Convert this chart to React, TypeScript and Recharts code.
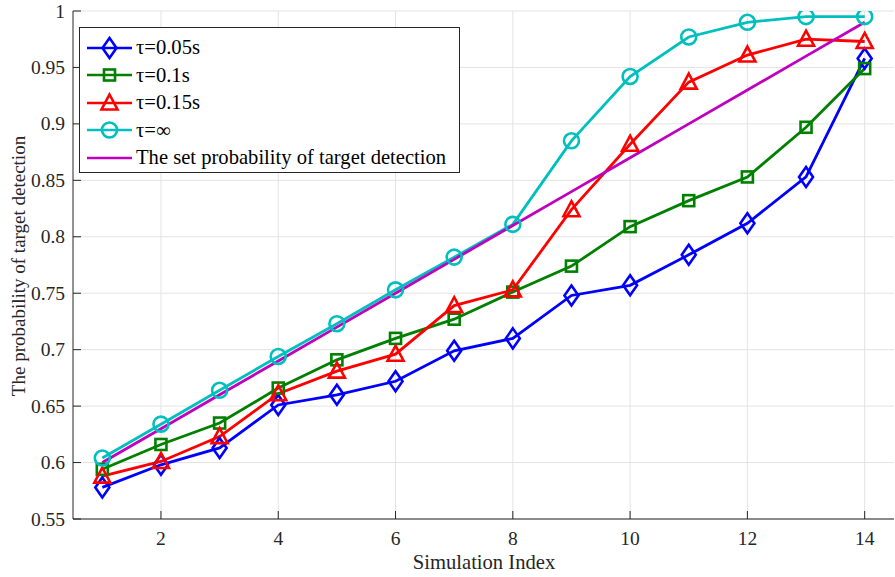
import React from 'react';
import { LineChart, Line, XAxis, YAxis, CartesianGrid, Legend, Label } from 'recharts';

document.body.style.margin = '0';

const simIndex = [1, 2, 3, 4, 5, 6, 7, 8, 9, 10, 11, 12, 13, 14];
const tau005 = [0.578, 0.598, 0.613, 0.651, 0.660, 0.672, 0.699, 0.710, 0.748, 0.757, 0.784, 0.812, 0.853, 0.958];
const tau01 = [0.594, 0.616, 0.635, 0.666, 0.691, 0.710, 0.727, 0.751, 0.774, 0.809, 0.832, 0.853, 0.897, 0.949];
const tau015 = [0.588, 0.601, 0.623, 0.661, 0.681, 0.696, 0.739, 0.753, 0.824, 0.882, 0.937, 0.961, 0.975, 0.973];
const tauInf = [0.604, 0.634, 0.664, 0.694, 0.723, 0.753, 0.782, 0.811, 0.885, 0.942, 0.977, 0.990, 0.995, 0.995];
const setProb = [0.60, 0.63, 0.66, 0.69, 0.72, 0.75, 0.78, 0.81, 0.84, 0.87, 0.90, 0.93, 0.96, 0.99];

const xTicks = [2, 4, 6, 8, 10, 12, 14];
const yTicks = [0.55, 0.6, 0.65, 0.7, 0.75, 0.8, 0.85, 0.9, 0.95, 1];

const data = simIndex.map((x, i) => ({
  x,
  t005: tau005[i],
  t01: tau01[i],
  t015: tau015[i],
  tinf: tauInf[i],
  set: setProb[i],
}));

const FONT = '"Liberation Serif", "Times New Roman", serif';
const AXIS = '#262626';
const PLOT_LEFT = 73;
const PLOT_BOTTOM = 519;

type Marker = 'diamond' | 'square' | 'triangle' | 'circle' | 'none';

const markerShape = (kind: Marker, cx: number, cy: number, color: string) => {
  const sw = 2.6;
  if (kind === 'diamond') {
    return <path d={`M${cx},${cy - 10} L${cx + 7},${cy} L${cx},${cy + 10} L${cx - 7},${cy} Z`} fill="none" stroke={color} strokeWidth={sw} />;
  }
  if (kind === 'square') {
    return <rect x={cx - 5.5} y={cy - 5.5} width={11} height={11} fill="none" stroke={color} strokeWidth={sw} />;
  }
  if (kind === 'triangle') {
    return <path d={`M${cx},${cy - 8.5} L${cx + 8},${cy + 6.5} L${cx - 8},${cy + 6.5} Z`} fill="none" stroke={color} strokeWidth={sw} />;
  }
  if (kind === 'circle') {
    return <circle cx={cx} cy={cy} r={7.5} fill="none" stroke={color} strokeWidth={sw} />;
  }
  return null;
};

const series: { key: string; name: string; color: string; marker: Marker }[] = [
  { key: 't005', name: 'τ=0.05s', color: '#0000ff', marker: 'diamond' },
  { key: 't01', name: 'τ=0.1s', color: '#008000', marker: 'square' },
  { key: 't015', name: 'τ=0.15s', color: '#ff0000', marker: 'triangle' },
  { key: 'tinf', name: 'τ=∞', color: '#00bfbf', marker: 'circle' },
  { key: 'set', name: 'The set probability of target detection', color: '#bf00bf', marker: 'none' },
];

const renderLegend = () => (
  <div
    style={{
      width: 379,
      height: 144,
      border: `1px solid ${AXIS}`,
      background: '#fff',
      fontFamily: FONT,
      fontSize: 20.6,
      color: '#000',
      boxSizing: 'content-box',
    }}
  >
    {series.map((s, i) => (
      <div key={s.key} style={{ display: 'flex', alignItems: 'center', height: 27.5, marginTop: i === 0 ? 6 : 0 }}>
        <svg width={52} height={24} style={{ marginLeft: 7 }}>
          <line x1={0} y1={12} x2={45} y2={12} stroke={s.color} strokeWidth={2.6} />
          {markerShape(s.marker, 22.5, 12, s.color)}
        </svg>
        <span style={{ whiteSpace: 'nowrap', marginLeft: -3 }}>{s.name}</span>
      </div>
    ))}
  </div>
);

const makeDot = (kind: Marker, color: string) => (props: any) => {
  const { cx, cy, index } = props;
  if (cx == null || cy == null) return <g key={index} />;
  return <g key={index}>{markerShape(kind, cx, cy, color)}</g>;
};

const YTick = (props: any) => {
  const { y, payload } = props;
  return (
    <g>
      <line x1={PLOT_LEFT} x2={PLOT_LEFT + 8} y1={y} y2={y} stroke={AXIS} strokeWidth={1} />
      <text x={PLOT_LEFT - 8} y={y} textAnchor="end" dominantBaseline="central" fill={AXIS} fontSize={19.5} fontFamily={FONT}>
        {String(+Number(payload.value).toFixed(2))}
      </text>
    </g>
  );
};

const XTick = (props: any) => {
  const { x, payload } = props;
  return (
    <g>
      <line x1={x} x2={x} y1={PLOT_BOTTOM} y2={PLOT_BOTTOM - 8} stroke={AXIS} strokeWidth={1} />
      <text x={x} y={545} textAnchor="middle" fill={AXIS} fontSize={19.5} fontFamily={FONT}>
        {payload.value}
      </text>
    </g>
  );
};

export default function App() {
  return (
    <LineChart
      width={895}
      height={577}
      data={data}
      margin={{ top: 11, right: 1, bottom: 0, left: 0 }}
      style={{ fontFamily: FONT }}
    >
      <CartesianGrid stroke="#e3e3e3" strokeWidth={1} verticalValues={xTicks} horizontalValues={yTicks} />
      <XAxis
        dataKey="x"
        type="number"
        domain={[0.5, 14.5]}
        ticks={xTicks}
        height={58}
        tickLine={false}
        tick={<XTick />}
        stroke={AXIS}
        allowDataOverflow
      >
        <Label
          content={() => (
            <text x={484} y={569} textAnchor="middle" fill={AXIS} fontSize={20.6} fontFamily={FONT}>
              Simulation Index
            </text>
          )}
        />
      </XAxis>
      <XAxis
        xAxisId="top"
        dataKey="x"
        type="number"
        orientation="top"
        domain={[0.5, 14.5]}
        ticks={xTicks}
        height={0}
        mirror
        tickSize={8}
        tickFormatter={() => ''}
        stroke={AXIS}
        allowDataOverflow
      />
      <YAxis
        type="number"
        domain={[0.55, 1]}
        ticks={yTicks}
        width={PLOT_LEFT}
        tickLine={false}
        tick={<YTick />}
        stroke={AXIS}
        allowDataOverflow
      >
        <Label
          content={() => (
            <text
              x={18}
              y={266}
              transform="rotate(-90 18 266)"
              textAnchor="middle"
              dominantBaseline="central"
              fill={AXIS}
              fontSize={19}
              fontFamily={FONT}
            >
              The probability of target detection
            </text>
          )}
        />
      </YAxis>
      <YAxis
        yAxisId="right"
        type="number"
        orientation="right"
        domain={[0.55, 1]}
        ticks={yTicks}
        width={0}
        mirror
        tickSize={8}
        tickFormatter={() => ''}
        stroke={AXIS}
        allowDataOverflow
      />
      <Legend
        layout="vertical"
        align="center"
        verticalAlign="middle"
        content={renderLegend}
        wrapperStyle={{ position: 'absolute', left: 79, top: 27, width: 'auto', height: 'auto' }}
      />
      {series.map((s) => (
        <Line
          key={s.key}
          dataKey={s.key}
          name={s.name}
          type="linear"
          stroke={s.color}
          strokeWidth={2.8}
          dot={s.marker === 'none' ? false : makeDot(s.marker, s.color)}
          activeDot={false}
          isAnimationActive={false}
        />
      ))}
    </LineChart>
  );
}
